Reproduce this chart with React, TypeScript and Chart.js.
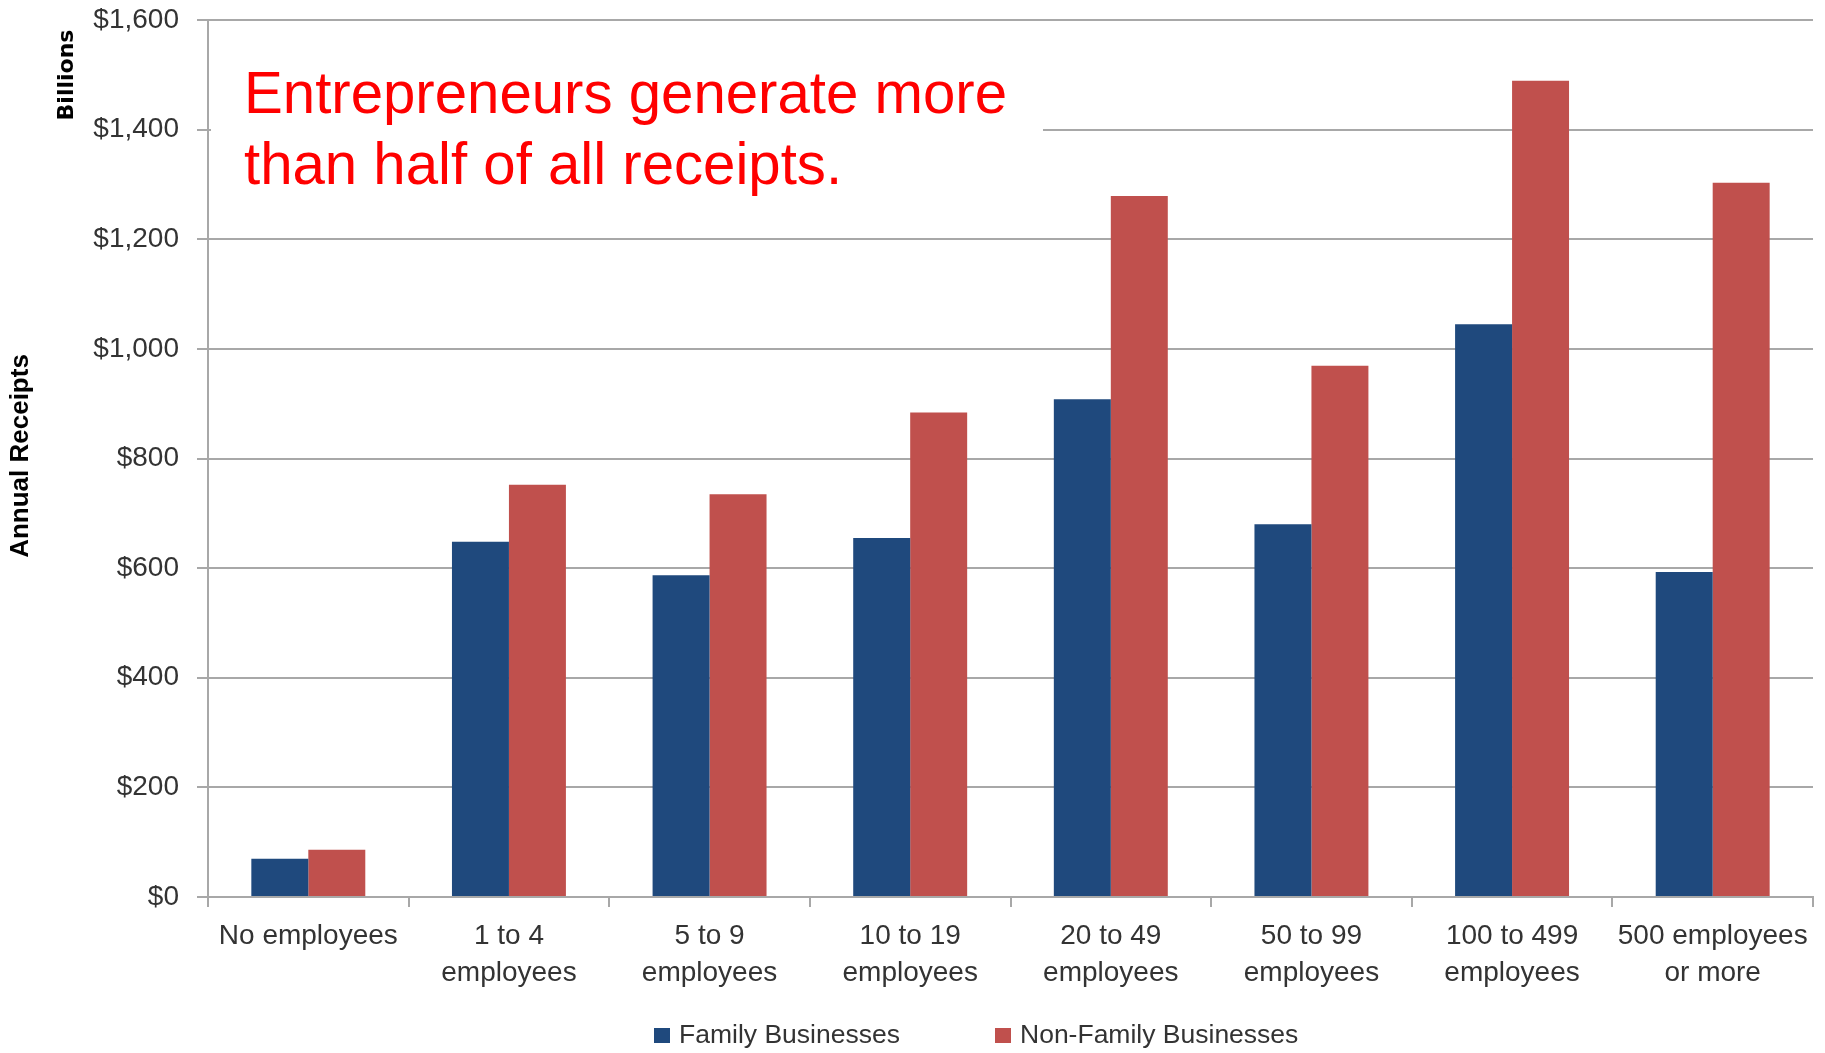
import React, { useEffect, useRef } from "react";
import { Chart, registerables } from "chart.js";

Chart.register(...registerables);

const CATEGORIES: string[][] = [
  ["No employees"],
  ["1 to 4", "employees"],
  ["5 to 9", "employees"],
  ["10 to 19", "employees"],
  ["20 to 49", "employees"],
  ["50 to 99", "employees"],
  ["100 to 499", "employees"],
  ["500 employees", "or more"],
];

const FAMILY_LABEL = "Family Businesses";
const NON_FAMILY_LABEL = "Non-Family Businesses";

const FAMILY = [70, 648, 587, 655, 908, 680, 1045, 593];
const NON_FAMILY = [86, 752, 735, 884, 1279, 969, 1489, 1303];

const Y_MIN = 0;
const Y_MAX = 1600;
const Y_STEP = 200;

const TITLE_LINES = ["Entrepreneurs generate more", "than half of all receipts."];
const Y_TITLE = "Annual Receipts";
const UNIT_TITLE = "Billions";

const BLUE = "#1F497D";
const RED = "#C0504D";
const GRID = "#a8a8a8";
const TEXT = "#333333";
const FONT = "'Liberation Sans', Arial, sans-serif";

const overlayPlugin = {
  id: "overlay",
  afterDraw(chart: any) {
    const ctx = chart.ctx as CanvasRenderingContext2D;
    ctx.save();
    // white box behind the title
    ctx.fillStyle = "#ffffff";
    ctx.fillRect(211, 50, 832, 150);

    // title
    ctx.fillStyle = "#FF0000";
    ctx.font = `60px ${FONT}`;
    ctx.textBaseline = "alphabetic";
    ctx.textAlign = "left";
    const w1 = ctx.measureText(TITLE_LINES[0]).width;
    const sx = 763 / w1;
    const baselines = [113, 184];
    TITLE_LINES.forEach((line, i) => {
      ctx.save();
      ctx.translate(244, baselines[i]);
      ctx.scale(sx, 1);
      ctx.fillText(line, 0, 0);
      ctx.restore();
    });

    // y axis title
    ctx.fillStyle = "#000000";
    ctx.font = `bold 26px ${FONT}`;
    ctx.textAlign = "center";
    ctx.textBaseline = "middle";
    ctx.save();
    ctx.translate(21, 456);
    ctx.rotate(-Math.PI / 2);
    ctx.fillText(Y_TITLE, 0, 0);
    ctx.restore();

    // units title
    ctx.font = `bold 22px 'DejaVu Sans', Verdana, sans-serif`;
    ctx.save();
    ctx.translate(67, 75);
    ctx.rotate(-Math.PI / 2);
    ctx.fillText(UNIT_TITLE, 0, 0);
    ctx.restore();

    // legend
    ctx.font = `26.5px ${FONT}`;
    ctx.textAlign = "left";
    ctx.textBaseline = "middle";
    const items = [
      { x: 654, color: BLUE, label: FAMILY_LABEL },
      { x: 995, color: RED, label: NON_FAMILY_LABEL },
    ];
    items.forEach((it) => {
      ctx.fillStyle = it.color;
      ctx.fillRect(it.x, 1028, 16, 15);
      ctx.fillStyle = TEXT;
      ctx.fillText(it.label, it.x + 25, 1036);
    });
    ctx.restore();
  },
};

export default function App() {
  const canvasRef = useRef<HTMLCanvasElement | null>(null);

  useEffect(() => {
    if (!canvasRef.current) return;
    const chart = new Chart(canvasRef.current, {
      type: "bar",
      data: {
        labels: CATEGORIES,
        datasets: [
          {
            label: FAMILY_LABEL,
            data: FAMILY,
            backgroundColor: BLUE,
            categoryPercentage: 0.568,
            barPercentage: 1.0,
          },
          {
            label: NON_FAMILY_LABEL,
            data: NON_FAMILY,
            backgroundColor: RED,
            categoryPercentage: 0.568,
            barPercentage: 1.0,
          },
        ],
      },
      options: {
        responsive: false,
        animation: false,
        layout: { padding: { left: 0, right: 12, top: 20, bottom: 0 } },
        plugins: {
          legend: { display: false },
          tooltip: { enabled: false },
          title: { display: false },
        },
        scales: {
          x: {
            offset: true,
            grid: {
              display: true,
              offset: true,
              drawOnChartArea: false,
              drawTicks: true,
              tickLength: 10,
              color: GRID,
              lineWidth: 2,
            },
            border: { display: true, color: GRID, width: 2 },
            ticks: {
              autoSkip: false,
              maxRotation: 0,
              minRotation: 0,
              padding: 11,
              color: TEXT,
              font: { family: FONT, size: 28, lineHeight: 1.32 },
            },
            afterFit: (scale: any) => {
              scale.height = 156;
              scale.paddingLeft = 0;
              scale.paddingRight = 0;
            },
          },
          y: {
            min: Y_MIN,
            max: Y_MAX,
            ticks: {
              stepSize: Y_STEP,
              padding: 18,
              color: TEXT,
              font: { family: FONT, size: 28 },
              callback: (v: any) => "$" + Number(v).toLocaleString("en-US"),
            },
            grid: {
              color: GRID,
              lineWidth: 2,
              tickLength: 11,
              drawTicks: true,
            },
            border: { display: true, color: GRID, width: 2 },
            afterFit: (scale: any) => {
              scale.width = 208;
              scale.paddingTop = 0;
              scale.paddingBottom = 0;
            },
          },
        },
      },
      plugins: [overlayPlugin],
    });
    return () => chart.destroy();
  }, []);

  return (
    <div style={{ position: "absolute", left: 0, top: 0, width: 1825, height: 1053, background: "#fff" }}>
      <canvas ref={canvasRef} width={1825} height={1053} style={{ display: "block" }} />
    </div>
  );
}
